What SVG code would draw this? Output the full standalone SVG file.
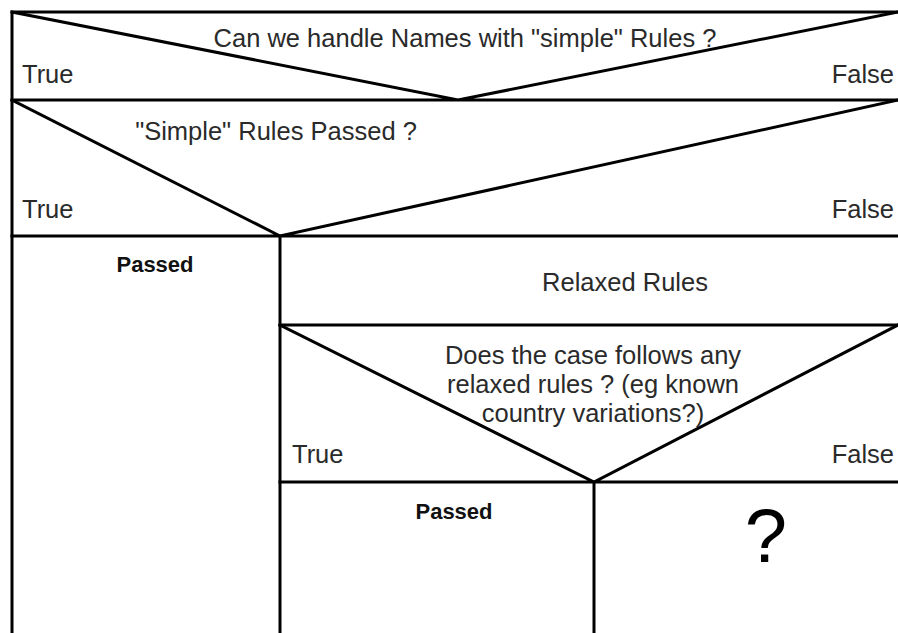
<svg xmlns="http://www.w3.org/2000/svg" width="898" height="633" viewBox="0 0 898 633">
<style>
.ln{stroke:#000;stroke-width:3;fill:none;stroke-linecap:square}
.t{font-family:"Liberation Sans",Arial,sans-serif;font-size:25.5px;fill:#2a2a2a}
.b{font-family:"Liberation Sans",Arial,sans-serif;font-size:22px;font-weight:bold;fill:#111}
.m{text-anchor:middle}
.e{text-anchor:end}
</style>
<rect x="0" y="0" width="898" height="633" fill="#fff"/>
<g id="frame">
<path class="ln" d="M12 12 H898 M12 12 V633"/>
</g>
<g id="decision1">
<path class="ln" d="M12 100 H898 M12 12 L458 100 L898 12"/>
<text class="t m" x="465" y="47">Can we handle Names with "simple" Rules ?</text>
<text class="t" x="22" y="83">True</text>
<text class="t e" x="894" y="83">False</text>
</g>
<g id="decision2">
<path class="ln" d="M12 236 H898 M12 100 L280 236 L898 100"/>
<text class="t m" x="276" y="140">"Simple" Rules Passed ?</text>
<text class="t" x="22" y="218">True</text>
<text class="t e" x="894" y="218">False</text>
</g>
<g id="passed1">
<path class="ln" d="M280 236 V633"/>
<text class="b m" x="155" y="272">Passed</text>
</g>
<g id="relaxed">
<path class="ln" d="M280 325 H898"/>
<text class="t m" x="625" y="291">Relaxed Rules</text>
</g>
<g id="decision3">
<path class="ln" d="M280 482 H898 M280 325 L594 482 L898 325"/>
<text class="t m" x="593" y="364">Does the case follows any</text>
<text class="t m" x="593" y="393">relaxed rules ? (eg known</text>
<text class="t m" x="593" y="422">country variations?)</text>
<text class="t" x="292" y="463">True</text>
<text class="t e" x="894" y="463">False</text>
</g>
<g id="passed2">
<path class="ln" d="M594 482 V633"/>
<text class="b m" x="454" y="519">Passed</text>
</g>
<g id="unknown">
<text class="t m" x="766" y="562" style="font-size:76px;fill:#000">?</text>
</g>
<g id="connectors"/>
</svg>
